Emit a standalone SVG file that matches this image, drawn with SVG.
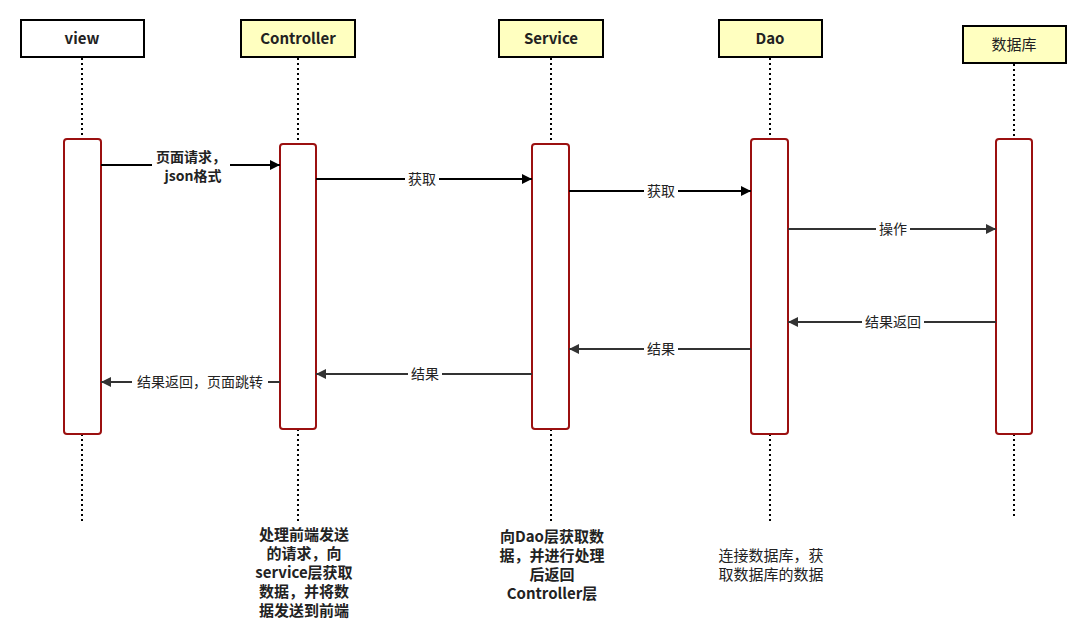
<svg xmlns="http://www.w3.org/2000/svg" width="1086" height="628" viewBox="0 0 1086 628">
<defs>
<style>
.hdr{stroke:#000;stroke-width:2;fill:#FFFFC0}
.hdrw{stroke:#000;stroke-width:2;fill:#fff}
.ht{font-family:"Noto Sans CJK SC","Noto Sans",sans-serif;font-size:15px;font-weight:bold;fill:#222;text-anchor:middle}
.life{stroke:#000;stroke-width:2;stroke-dasharray:2 3;fill:none}
.act{stroke:#9B1010;stroke-width:2;fill:#fff}
.msg{stroke:#000;stroke-width:2;fill:none}
.msg2{stroke:#333;stroke-width:2;fill:none}
.lbl{font-family:"Noto Sans CJK SC","Noto Sans",sans-serif;font-size:14px;fill:#222;text-anchor:middle}
.lbg{fill:#fff}
.note{font-family:"Noto Sans CJK SC","Noto Sans",sans-serif;font-size:15px;font-weight:bold;fill:#222;text-anchor:middle}
.note2{font-family:"Noto Sans CJK SC","Noto Sans",sans-serif;font-size:15px;fill:#222;text-anchor:middle}
</style>
<marker id="ah" viewBox="0 0 10 10" refX="10" refY="5" markerWidth="6" markerHeight="5" orient="auto" markerUnits="strokeWidth"><path d="M0,0 L10,5 L0,10 z" fill="#000"/></marker>
<marker id="ah2" viewBox="0 0 10 10" refX="10" refY="5" markerWidth="7" markerHeight="5" orient="auto" markerUnits="strokeWidth"><path d="M0,0 L10,5 L0,10 z" fill="#333"/></marker>
</defs>
<rect width="1086" height="628" fill="#fff"/>

<g id="view">
<line class="life" x1="82" y1="58" x2="82" y2="139"/>
<line class="life" x1="82" y1="434" x2="82" y2="521"/>
<rect class="hdrw" x="21" y="20" width="123" height="37"/>
<text class="ht" x="82" y="44">view</text>
<rect class="act" x="64" y="139" width="37" height="295" rx="3"/>
</g>

<g id="controller">
<line class="life" x1="298" y1="58" x2="298" y2="144"/>
<line class="life" x1="298" y1="429" x2="298" y2="521"/>
<rect class="hdr" x="241" y="20" width="114" height="37"/>
<text class="ht" x="298" y="44">Controller</text>
<rect class="act" x="280" y="144" width="36" height="285" rx="3"/>
</g>

<g id="service">
<line class="life" x1="551" y1="58" x2="551" y2="144"/>
<line class="life" x1="551" y1="429" x2="551" y2="521"/>
<rect class="hdr" x="499" y="20" width="104" height="37"/>
<text class="ht" x="551" y="44">Service</text>
<rect class="act" x="532" y="144" width="37" height="285" rx="3"/>
</g>

<g id="dao">
<line class="life" x1="770" y1="58" x2="770" y2="139"/>
<line class="life" x1="770" y1="434" x2="770" y2="521"/>
<rect class="hdr" x="719" y="20" width="103" height="37"/>
<text class="ht" x="770" y="44">Dao</text>
<rect class="act" x="751" y="139" width="37" height="295" rx="3"/>
</g>

<g id="db">
<line class="life" x1="1014" y1="64" x2="1014" y2="139"/>
<line class="life" x1="1014" y1="434" x2="1014" y2="516"/>
<rect class="hdr" x="963" y="26" width="103" height="37"/>
<text class="ht" x="1014" y="50" style="font-weight:normal">数据库</text>
<rect class="act" x="996" y="139" width="36" height="295" rx="3"/>
</g>

<g id="connectors">
<line class="msg" x1="101" y1="165" x2="280" y2="165" marker-end="url(#ah)"/>
<rect class="lbg" x="152" y="150" width="78" height="34"/>
<text class="lbl" x="191" y="162" font-weight="bold">页面请求，</text>
<text class="lbl" x="193" y="181" font-weight="bold">json格式</text>

<line class="msg" x1="316" y1="179" x2="532" y2="179" marker-end="url(#ah)"/>
<rect class="lbg" x="405" y="171" width="34" height="16"/>
<text class="lbl" x="422" y="184">获取</text>

<line class="msg" x1="569" y1="191" x2="751" y2="191" marker-end="url(#ah)"/>
<rect class="lbg" x="644" y="183" width="34" height="16"/>
<text class="lbl" x="661" y="196">获取</text>

<line class="msg2" x1="788" y1="229" x2="996" y2="229" marker-end="url(#ah2)"/>
<rect class="lbg" x="876" y="221" width="34" height="16"/>
<text class="lbl" x="893" y="234">操作</text>

<line class="msg2" x1="996" y1="322" x2="788" y2="322" marker-end="url(#ah2)"/>
<rect class="lbg" x="862" y="314" width="62" height="16"/>
<text class="lbl" x="893" y="327">结果返回</text>

<line class="msg2" x1="751" y1="349" x2="569" y2="349" marker-end="url(#ah2)"/>
<rect class="lbg" x="644" y="341" width="34" height="16"/>
<text class="lbl" x="661" y="354">结果</text>

<line class="msg2" x1="532" y1="374" x2="316" y2="374" marker-end="url(#ah2)"/>
<rect class="lbg" x="408" y="366" width="34" height="16"/>
<text class="lbl" x="425" y="379">结果</text>

<line class="msg2" x1="280" y1="382" x2="101" y2="382" marker-end="url(#ah2)"/>
<rect class="lbg" x="132" y="374" width="136" height="16"/>
<text class="lbl" x="200" y="387">结果返回，页面跳转</text>
</g>

<g id="note-controller">
<text class="note" x="304" y="540">处理前端发送</text>
<text class="note" x="304" y="559">的请求，向</text>
<text class="note" x="304" y="578">service层获取</text>
<text class="note" x="304" y="597">数据，并将数</text>
<text class="note" x="304" y="616">据发送到前端</text>
</g>

<g id="note-service">
<text class="note" x="552" y="542">向Dao层获取数</text>
<text class="note" x="552" y="561">据，并进行处理</text>
<text class="note" x="552" y="580">后返回</text>
<text class="note" x="552" y="599">Controller层</text>
</g>

<g id="note-dao">
<text class="note2" x="771" y="561">连接数据库，获</text>
<text class="note2" x="771" y="580">取数据库的数据</text>
</g>
</svg>
